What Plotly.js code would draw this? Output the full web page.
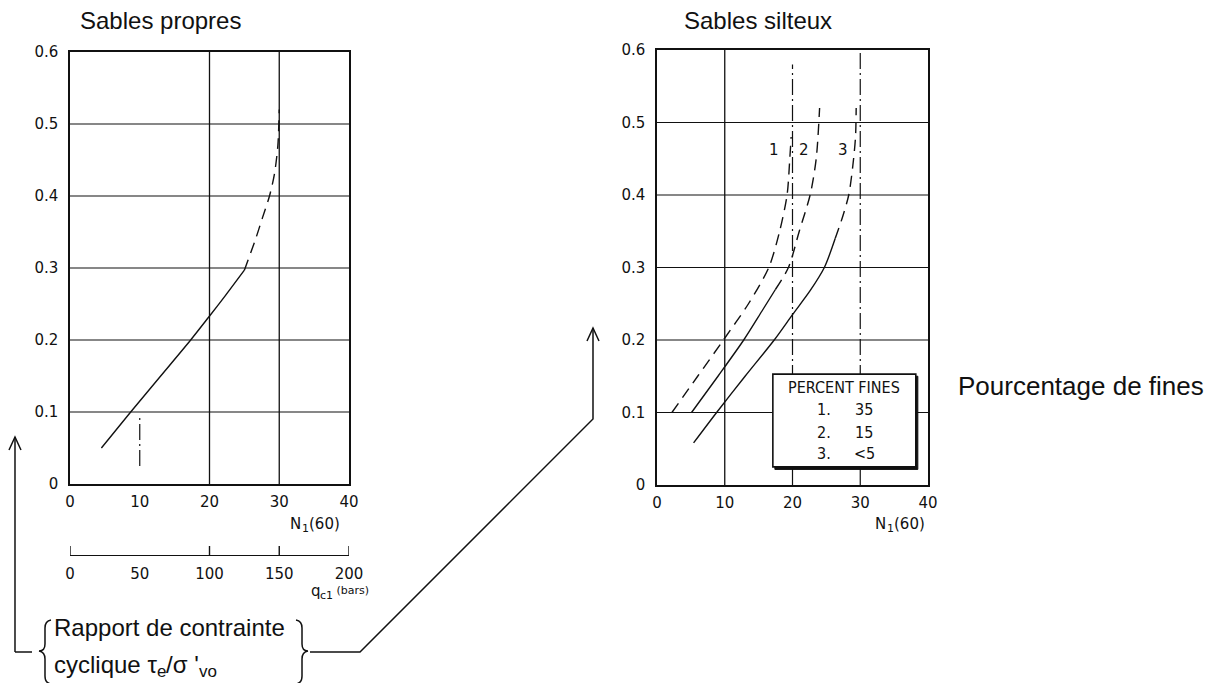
<!DOCTYPE html>
<html>
<head>
<meta charset="utf-8">
<script src="https://cdn.plot.ly/plotly-3.0.1.min.js"></script>
<style>html,body{margin:0;padding:0;background:#fff;}#chart{width:1222px;height:683px;}</style>
</head>
<body>
<div id="chart"></div>
<script>
// ---------- data ----------
const xTickVals = [0, 10, 20, 30, 40];
const yTickVals = [0, 0.1, 0.2, 0.3, 0.4, 0.5, 0.6];
const yTickText = ["0", "0.1", "0.2", "0.3", "0.4", "0.5", "0.6"];
const qcTickVals = [0, 50, 100, 150, 200];
const qcTickMarks = [0, 100, 150, 200];

// Sables propres (clean sands)
const leftSolidN = [4.5, 8.7, 13.0, 17.3, 19.9, 22.3, 25.0];
const leftSolidR = [0.05, 0.10, 0.15, 0.20, 0.232, 0.262, 0.297];
const leftDashN  = [25.0, 26.6, 27.6, 28.6, 29.3, 29.8, 30.0];
const leftDashR  = [0.297, 0.34, 0.37, 0.40, 0.43, 0.47, 0.52];

// Sables silteux (silty sands)
const c1DashN  = [2.2, 6.0, 9.8, 13.5, 16.5, 18.1, 19.2, 19.6, 19.8];
const c1DashR  = [0.10, 0.15, 0.20, 0.25, 0.30, 0.35, 0.40, 0.45, 0.48];
const c2SolidN = [5.1, 9.0, 12.8, 15.5, 17.5];
const c2SolidR = [0.10, 0.15, 0.20, 0.24, 0.27];
const c2DashN  = [17.5, 19.4, 21.0, 22.6, 23.5, 24.0];
const c2DashR  = [0.27, 0.30, 0.35, 0.40, 0.45, 0.52];
const c3SolidN = [5.4, 8.8, 13.0, 17.3, 20.0, 22.6, 24.7, 26.3];
const c3SolidR = [0.058, 0.10, 0.15, 0.20, 0.235, 0.268, 0.30, 0.34];
const c3DashN  = [26.3, 27.4, 28.3, 28.9, 29.3, 29.4];
const c3DashR  = [0.34, 0.37, 0.40, 0.44, 0.48, 0.52];

const curveLabels = ["1", "2", "3"];
const curveLabelN = [17.3, 21.7, 27.4];
const curveLabelR = [0.462, 0.462, 0.462];

const gridR = [0.1, 0.2, 0.3, 0.4, 0.5];
const leftGridN = [20, 30];
const leftRefN = [10], leftRefR0 = [0.025], leftRefR1 = [0.092];
const rightSolidN = [10];
const rightDashDotN = [20, 30], rightDashDotR0 = [0, 0], rightDashDotR1 = [0.58, 0.6];

const legendTitle = "PERCENT FINES";
const legendNums = ["1.", "2.", "3."];
const legendVals = ["35", "15", "<5"];

const titleLeft = "Sables propres";
const titleRight = "Sables silteux";
const finesLabel = "Pourcentage de fines";
const ratioLine1 = "Rapport de contrainte";
// rich texts as runs: [text, kind] kind: 'n' normal, 's' subscript, 'm' small
const axisLabelNRuns = [["N", "n"], ["1", "s"], ["(60)", "n"]];
const axisLabelQRuns = [["q", "n"], ["c1", "s"], [" (bars)", "m"]];
const ratioLine2Runs = [["cyclique τ", "n"], ["e", "s"], ["/σ '", "n"], ["vo", "s"]];

// ---------- helpers (pixel -> paper) ----------
const W = 1222, H = 683;
const px = x => x / W;
const py = y => 1 - y / H;
function pathPx(s) {
  const tok = s.trim().split(/\s+/);
  let out = [], isX = true;
  for (const t of tok) {
    if (/^[A-Za-z]$/.test(t)) { out.push(t); isX = true; }
    else { const v = parseFloat(t); out.push(isX ? px(v).toFixed(5) : py(v).toFixed(5)); isX = !isX; }
  }
  return out.join(' ');
}
const ctx = document.createElement('canvas').getContext('2d');
function textW(t, size, family) { ctx.font = size + 'px ' + family; return ctx.measureText(t).width; }

const BLK = '#111';
const SANS = 'Liberation Sans, Arial, Helvetica, sans-serif';
const TECH = 'DejaVu Sans, sans-serif';
const tickFont = {family: TECH, size: 15, color: BLK};
const titleFont = {family: SANS, size: 24, color: BLK};
const bigFont = {family: SANS, size: 26, color: BLK};
const DASH = '11px,7px';
const DASHDOT = '16px,4px,2px,4px';

const solid = (x, y, xa, ya) => ({x, y, xaxis: xa, yaxis: ya, mode: 'lines', type: 'scatter',
  line: {color: BLK, width: 1.4, shape: 'spline', smoothing: 0.8}, hoverinfo: 'skip', showlegend: false});
const dashed = (x, y, xa, ya) => ({x, y, xaxis: xa, yaxis: ya, mode: 'lines', type: 'scatter',
  line: {color: BLK, width: 1.4, dash: DASH, shape: 'spline', smoothing: 0.8}, hoverinfo: 'skip', showlegend: false});

const traces = [
  solid(leftSolidN, leftSolidR, 'x', 'y'),
  dashed(leftDashN, leftDashR, 'x', 'y'),
  dashed(c1DashN, c1DashR, 'x2', 'y2'),
  solid(c2SolidN, c2SolidR, 'x2', 'y2'),
  dashed(c2DashN, c2DashR, 'x2', 'y2'),
  solid(c3SolidN, c3SolidR, 'x2', 'y2'),
  dashed(c3DashN, c3DashR, 'x2', 'y2'),
  // invisible trace to materialise the q_c1 scale axis
  {x: [0, 200], y: [-1, -1], xaxis: 'x3', yaxis: 'y', mode: 'markers', marker: {opacity: 0}, hoverinfo: 'skip', showlegend: false}
];

const shapes = [];
gridR.forEach(r => {
  shapes.push({type: 'line', xref: 'x', yref: 'y', x0: 0, x1: 40, y0: r, y1: r, line: {color: BLK, width: 1.2}, layer: 'below'});
  shapes.push({type: 'line', xref: 'x2', yref: 'y2', x0: 0, x1: 40, y0: r, y1: r, line: {color: BLK, width: 1.2}, layer: 'below'});
});
leftGridN.forEach(n => shapes.push({type: 'line', xref: 'x', yref: 'y', x0: n, x1: n, y0: 0, y1: 0.6, line: {color: BLK, width: 1.3}, layer: 'below'}));
leftRefN.forEach((n, i) => shapes.push({type: 'line', xref: 'x', yref: 'y', x0: n, x1: n, y0: leftRefR0[i], y1: leftRefR1[i], line: {color: BLK, width: 1.2, dash: DASHDOT}, layer: 'below'}));
rightSolidN.forEach(n => shapes.push({type: 'line', xref: 'x2', yref: 'y2', x0: n, x1: n, y0: 0, y1: 0.6, line: {color: BLK, width: 1.3}, layer: 'below'}));
rightDashDotN.forEach((n, i) => shapes.push({type: 'line', xref: 'x2', yref: 'y2', x0: n, x1: n, y0: rightDashDotR0[i], y1: rightDashDotR1[i], line: {color: BLK, width: 1.2, dash: DASHDOT}, layer: 'below'}));

// q_c1 scale tick marks (pointing up from the scale line)
qcTickMarks.forEach(v => shapes.push({type: 'line', xref: 'x3', yref: 'paper', x0: v, x1: v, y0: py(555), y1: py(546), line: {color: BLK, width: 1.4}, layer: 'above'}));

// legend box with shadow
shapes.push({type: 'rect', xref: 'x2', yref: 'y2', x0: 17.4, x1: 38.5, y0: 0.0215, y1: 0.150, fillcolor: BLK, line: {color: BLK, width: 1}, layer: 'above'});
shapes.push({type: 'rect', xref: 'x2', yref: 'y2', x0: 17.1, x1: 38.2, y0: 0.025, y1: 0.153, fillcolor: '#fff', line: {color: BLK, width: 1.6}, layer: 'above'});

// connectors, arrows, braces (decoration, pixel positions)
const deco = [
  'M 15 652 L 15 437',
  'M 32 652 L 15 652',
  'M 9 450 L 15 437 L 21 450',
  'M 310 652 L 360 652 L 593 419 L 593 328',
  'M 587 341 L 593 328 L 599 341',
  'M 51 620 Q 45 621 45 628 L 45 644 Q 45 651 39 651 Q 45 652 45 659 L 45 676 Q 45 683 51 684',
  'M 296 620 Q 302 621 302 628 L 302 644 Q 302 651 308 651 Q 302 652 302 659 L 302 676 Q 302 683 296 684'
];
deco.forEach(d => shapes.push({type: 'path', xref: 'paper', yref: 'paper', path: pathPx(d), line: {color: BLK, width: 1.5}, layer: 'above'}));

const annotations = [];
const addText = (text, x, y, xref, yref, font, xanchor) => annotations.push({text, x, y, xref, yref, font, showarrow: false, xanchor: xanchor || 'center', yanchor: 'middle'});

// rich text built from plain runs placed side by side (pixel positions)
function addRuns(runs, xPx, yPx, size, family, anchor) {
  const sz = k => k === 'n' ? size : Math.round(size * 0.7);
  const widths = runs.map(([t, k]) => textW(t, sz(k), family));
  const total = widths.reduce((a, b) => a + b, 0);
  let x = anchor === 'center' ? xPx - total / 2 : xPx;
  runs.forEach(([t, k], i) => {
    const dy = k === 's' ? size * 0.3 : (k === 'm' ? -size * 0.05 : 0);
    addText(t, px(x), py(yPx + dy), 'paper', 'paper', {family, size: sz(k), color: BLK}, 'left');
    x += widths[i];
  });
}

addText(titleLeft, px(78), py(20), 'paper', 'paper', titleFont, 'left');
addText(titleRight, px(682), py(20), 'paper', 'paper', titleFont, 'left');
addText(finesLabel, px(956), py(386), 'paper', 'paper', bigFont, 'left');
addText(ratioLine1, px(52), py(627), 'paper', 'paper', titleFont, 'left');
addRuns(ratioLine2Runs, 52, 664, 24, SANS, 'left');
addRuns(axisLabelNRuns, 313, 524, 15, TECH, 'center');
addRuns(axisLabelNRuns, 898, 524, 15, TECH, 'center');
addRuns(axisLabelQRuns, 338, 591, 15, TECH, 'center');
curveLabels.forEach((t, i) => addText(t, curveLabelN[i], curveLabelR[i], 'x2', 'y2', tickFont));
const legFont = {family: 'DejaVu Sans Condensed, DejaVu Sans, sans-serif', size: 16, color: BLK};
addText(legendTitle, 27.6, 0.134, 'x2', 'y2', legFont);
const legRows = [0.1035, 0.073, 0.044];
legendNums.forEach((t, i) => {
  addText(t, 24.6, legRows[i], 'x2', 'y2', legFont);
  addText(legendVals[i], 30.6, legRows[i], 'x2', 'y2', legFont);
});

const baseX = {range: [0, 40], tickvals: xTickVals, ticktext: xTickVals.map(String), showgrid: false, zeroline: false,
  showline: true, mirror: true, linecolor: BLK, linewidth: 1.6, ticks: '', tickfont: tickFont, ticklabelstandoff: 3, fixedrange: true};
const baseY = {range: [0, 0.6], tickvals: yTickVals, ticktext: yTickText, showgrid: false, zeroline: false,
  showline: true, mirror: true, linecolor: BLK, linewidth: 1.6, ticks: '', tickfont: tickFont, ticklabelstandoff: 7, fixedrange: true};

const layout = {
  width: W, height: H,
  margin: {l: 0, r: 0, t: 0, b: 0},
  paper_bgcolor: '#fff', plot_bgcolor: 'rgba(0,0,0,0)',
  showlegend: false,
  xaxis: Object.assign({}, baseX, {domain: [px(70), px(349)], anchor: 'y'}),
  yaxis: Object.assign({}, baseY, {domain: [py(484), py(52)], anchor: 'x'}),
  xaxis2: Object.assign({}, baseX, {domain: [px(657), px(928)], anchor: 'y2'}),
  yaxis2: Object.assign({}, baseY, {domain: [py(485), py(50)], anchor: 'x2'}),
  xaxis3: {overlaying: 'x', anchor: 'free', position: py(555), range: [0, 200], tickvals: qcTickVals, ticktext: qcTickVals.map(String),
    showgrid: false, zeroline: false, showline: true, linecolor: BLK, linewidth: 1.4, ticks: '', tickfont: tickFont, ticklabelstandoff: 5, fixedrange: true},
  shapes, annotations
};

Plotly.newPlot('chart', traces, layout, {displayModeBar: false, staticPlot: true});
</script>
</body>
</html>
